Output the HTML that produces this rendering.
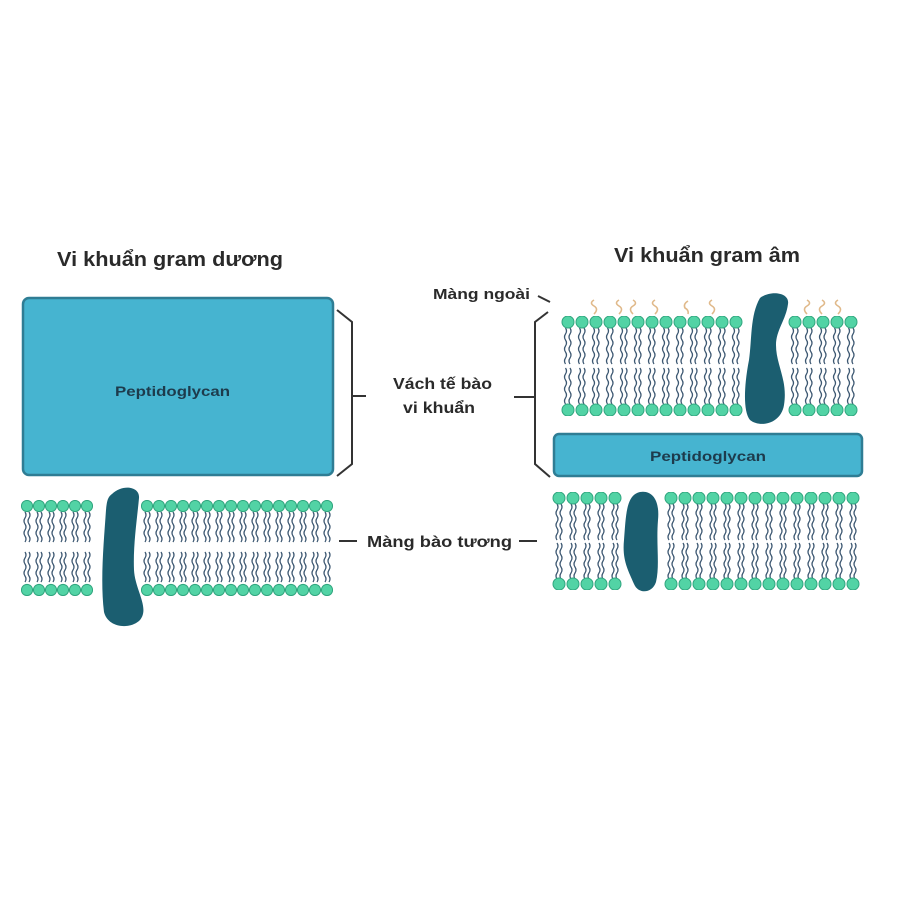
<!DOCTYPE html>
<html><head><meta charset="utf-8">
<style>
html,body{margin:0;padding:0;background:#fff;}
svg{display:block;}
text{font-family:"Liberation Sans",sans-serif;font-weight:bold;fill:#2a2a2a;}
</style></head>
<body>
<svg width="900" height="900" viewBox="0 0 900 900" xmlns="http://www.w3.org/2000/svg">
<defs>
  <pattern id="lipL" patternUnits="userSpaceOnUse" x="21" y="500" width="12" height="96">
    <g fill="none" stroke="#3d5872" stroke-width="1.3">
      <path d="M4 12 q2 3 0 6 q-2 3 0 6 q2 3 0 6 q-2 3 0 6 q2 3 0 6"/>
      <path d="M8 12 q2 3 0 6 q-2 3 0 6 q2 3 0 6 q-2 3 0 6 q2 3 0 6"/>
      <path d="M4 52 q2 3 0 6 q-2 3 0 6 q2 3 0 6 q-2 3 0 6 q2 3 0 6"/>
      <path d="M8 52 q2 3 0 6 q-2 3 0 6 q2 3 0 6 q-2 3 0 6 q2 3 0 6"/>
    </g>
    <circle cx="6" cy="6" r="5.6" fill="#52d3a5" stroke="#2fa57e" stroke-width="1"/>
    <circle cx="6" cy="90" r="5.6" fill="#52d3a5" stroke="#2fa57e" stroke-width="1"/>
  </pattern>
  <g id="lipR1g">
    <g fill="none" stroke="#3d5872" stroke-width="1.3">
      <path d="M4.5 12 q2 3 0 6 q-2 3 0 6 q2 3 0 6 q-2 3 0 6 q2 3 0 6 q-2 3 0 6"/>
      <path d="M9 12 q2 3 0 6 q-2 3 0 6 q2 3 0 6 q-2 3 0 6 q2 3 0 6 q-2 3 0 6"/>
      <path d="M4.5 52 q2 3 0 6 q-2 3 0 6 q2 3 0 6 q-2 3 0 6 q2 3 0 6 q-2 3 0 6"/>
      <path d="M9 52 q2 3 0 6 q-2 3 0 6 q2 3 0 6 q-2 3 0 6 q2 3 0 6 q-2 3 0 6"/>
    </g>
    <circle cx="7" cy="6" r="6" fill="#52d3a5" stroke="#2fa57e" stroke-width="1"/>
    <circle cx="7" cy="94" r="6" fill="#52d3a5" stroke="#2fa57e" stroke-width="1"/>
  </g>
  <pattern id="lipR1" patternUnits="userSpaceOnUse" x="561" y="316" width="14" height="100">
    <use href="#lipR1g"/>
  </pattern>
  <pattern id="lipR1b" patternUnits="userSpaceOnUse" x="788" y="316" width="14" height="100">
    <use href="#lipR1g"/>
  </pattern>
  <pattern id="lipR2" patternUnits="userSpaceOnUse" x="552" y="492" width="14" height="98">
    <g fill="none" stroke="#3d5872" stroke-width="1.3">
      <path d="M5 12 q2 3 0 6 q-2 3 0 6 q2 3 0 6 q-2 3 0 6 q2 3 0 6 q-2 3 0 6"/>
      <path d="M9 12 q2 3 0 6 q-2 3 0 6 q2 3 0 6 q-2 3 0 6 q2 3 0 6 q-2 3 0 6"/>
      <path d="M5 51 q2 3 0 6 q-2 3 0 6 q2 3 0 6 q-2 3 0 6 q2 3 0 6 q-2 3 0 6"/>
      <path d="M9 51 q2 3 0 6 q-2 3 0 6 q2 3 0 6 q-2 3 0 6 q2 3 0 6 q-2 3 0 6"/>
    </g>
    <circle cx="7" cy="6" r="6" fill="#52d3a5" stroke="#2fa57e" stroke-width="1"/>
    <circle cx="7" cy="92" r="6" fill="#52d3a5" stroke="#2fa57e" stroke-width="1"/>
  </pattern>
</defs>

<!-- Titles -->
<text x="57" y="266" font-size="20" textLength="226" lengthAdjust="spacingAndGlyphs">Vi khuẩn gram dương</text>
<text x="614" y="262" font-size="20" textLength="186" lengthAdjust="spacingAndGlyphs">Vi khuẩn gram âm</text>

<!-- Left peptidoglycan -->
<rect x="23" y="298" width="310" height="177" rx="6" fill="#46b4d0" stroke="#2f7d94" stroke-width="2.5"/>
<text x="115" y="396" font-size="14" textLength="115" lengthAdjust="spacingAndGlyphs" style="fill:#1d3b4c">Peptidoglycan</text>

<!-- Left membrane -->
<rect x="21" y="500" width="72" height="96" fill="url(#lipL)"/>
<rect x="141" y="500" width="192" height="96" fill="url(#lipL)"/>
<path d="M112 494 C122 484,140 486,139 498 C137 520,133 545,134 570 C135 590,150 608,140 620 C130 630,108 628,104 612 C100 580,104 540,106 510 C107 500,108 497,112 494 Z" fill="#1b5e70"/>

<!-- Brackets -->
<g fill="none" stroke="#333" stroke-width="2">
  <path d="M337 310 L352 322 L352 464 L337 476"/>
  <path d="M352 396 L366 396"/>
  <path d="M548 312 L535 322 L535 464 L550 477"/>
  <path d="M514 397 L535 397"/>
  <path d="M339 541 L357 541"/>
  <path d="M519 541 L537 541"/>
  <path d="M538 296 L550 302"/>
</g>
<text x="393" y="389" font-size="16" textLength="99" lengthAdjust="spacingAndGlyphs">Vách tế bào</text>
<text x="403" y="413" font-size="16" textLength="72" lengthAdjust="spacingAndGlyphs">vi khuẩn</text>
<text x="367" y="547" font-size="16" textLength="145" lengthAdjust="spacingAndGlyphs">Màng bào tương</text>
<text x="433" y="299" font-size="15" textLength="97" lengthAdjust="spacingAndGlyphs">Màng ngoài</text>

<!-- Right top membrane -->
<g fill="none" stroke="#e0b98a" stroke-width="1.6">
  <path d="M594 300 q-5 3 0 6 q5 3 0 8"/>
  <path d="M619 300 q-5 3 0 6 q5 3 0 8"/>
  <path d="M633 300 q5 3 0 6 q-5 3 0 8"/>
  <path d="M655 300 q-5 3 0 6 q5 3 0 8"/>
  <path d="M688 301 q-5 3 -3 7 q4 2 3 6"/>
  <path d="M712 300 q-5 3 0 6 q5 3 0 8"/>
  <path d="M807 300 q5 3 0 6 q-5 3 0 8"/>
  <path d="M822 300 q5 3 0 6 q-5 3 0 8"/>
  <path d="M838 300 q-5 3 0 6 q5 3 0 8"/>
</g>
<rect x="561" y="316" width="182" height="100" fill="url(#lipR1)"/>
<rect x="788" y="316" width="70" height="100" fill="url(#lipR1b)"/>
<path d="M760 298 C770 290,790 292,788 304 C786 320,776 330,776 345 C776 365,788 380,784 405 C781 424,760 428,750 420 C742 410,745 380,749 360 C752 340,750 315,760 298 Z" fill="#1b5e70"/>

<!-- Right peptidoglycan -->
<rect x="554" y="434" width="308" height="42" rx="5" fill="#46b4d0" stroke="#2f7d94" stroke-width="2.5"/>
<text x="650" y="461" font-size="14" textLength="116" lengthAdjust="spacingAndGlyphs" style="fill:#1d3b4c">Peptidoglycan</text>

<!-- Right bottom membrane -->
<rect x="552" y="492" width="70" height="98" fill="url(#lipR2)"/>
<rect x="664" y="492" width="196" height="98" fill="url(#lipR2)"/>
<path d="M640 492 C652 490,660 500,658 520 C656 545,660 565,656 582 C652 594,638 594,634 584 C628 570,622 560,624 540 C626 515,626 495,640 492 Z" fill="#1b5e70"/>
</svg>
</body></html>
